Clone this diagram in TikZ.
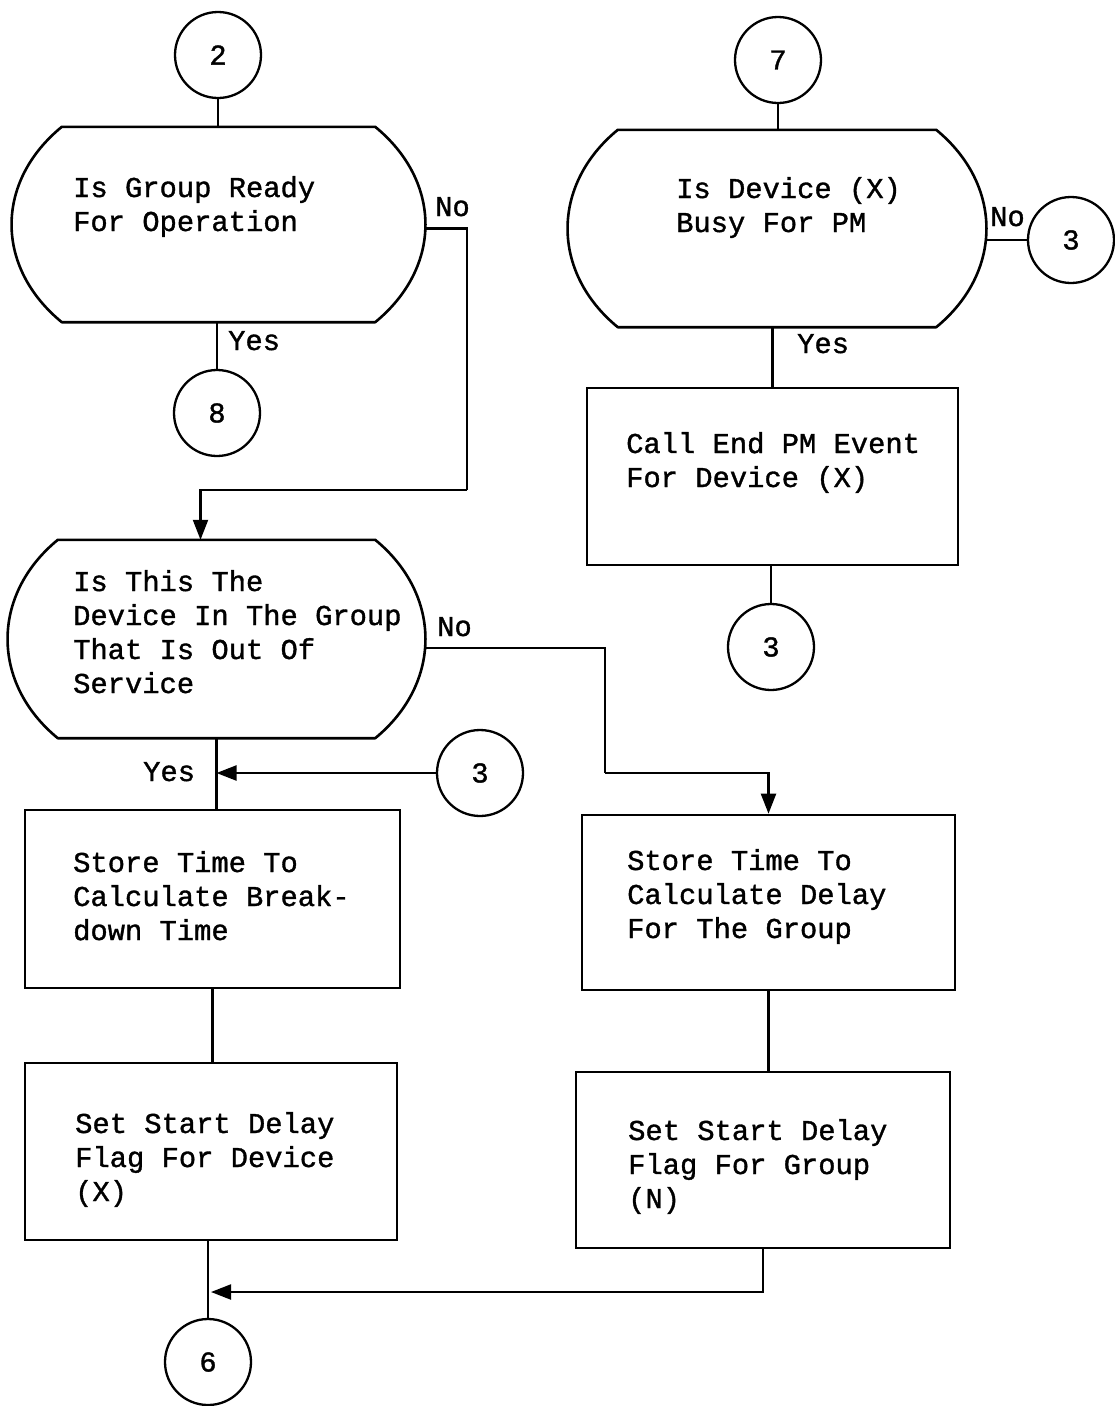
\documentclass[tikz,border=0pt]{standalone}
\usepackage{fontspec}
\newfontfamily\typewriter{Liberation Mono}[FakeBold=1.2]
\usetikzlibrary{arrows.meta,calc}

% multi-line, left-aligned text whose base is the first line's baseline
\newcommand\textlines[1]{\begin{tabular}[t]{@{}l@{}}#1\end{tabular}}

% barrel-shaped decision outline around an (invisible) rectangle node
\newcommand\drawbarrel[1]{%
  \draw[shapeline]
    ([xshift=50pt]#1.north west) -- ([xshift=-50pt]#1.north east)
    .. controls ([xshift=17pt,yshift=-55pt]#1.north east)
       and ([xshift=17pt,yshift=55pt]#1.south east) ..
    ([xshift=-50pt]#1.south east) -- ([xshift=50pt]#1.south west)
    .. controls ([xshift=-17pt,yshift=55pt]#1.south west)
       and ([xshift=-17pt,yshift=-55pt]#1.north west) .. cycle;}

\tikzset{
  every node/.style={font=\typewriter\fontsize{28.8}{34}\selectfont},
  shapeline/.style={line width=2.6pt, line join=round},
  connector/.style={circle, draw, line width=2.3pt, minimum size=86pt, inner sep=0pt},
  decisionbox/.style={rectangle, draw=none, inner sep=0pt},
  processbox/.style={rectangle, draw, line width=2.6pt, inner sep=0pt},
  txt/.style={anchor=base west, inner sep=0pt},
  flow/.style={line width=2.2pt},
  flowarrow/.style={line width=2.2pt, -{Triangle[length=20pt,width=15pt]}},
}

\begin{document}
\begin{tikzpicture}[x=1pt,y=-1pt]
\useasboundingbox (0,0) rectangle (1115,1406);

% ---------- left column ----------
\node[connector] (c2) at (218,55) {2};
\node[decisionbox, minimum width=413pt, minimum height=195pt] (d1) at (218.5,224.5) {};
\drawbarrel{d1}
\node[txt] (d1t) at (73,197) {\textlines{Is Group Ready\\For Operation}};
\node[connector] (c8) at (217,413) {8};

\node[decisionbox, minimum width=417pt, minimum height=198pt] (d2) at (216.5,639) {};
\drawbarrel{d2}
\node[txt] (d2t) at (73,591) {\textlines{Is This The\\Device In The Group\\That Is Out Of\\Service}};

\node[connector] (c3c) at (480,773) {3};

\node[processbox, minimum width=375pt, minimum height=178pt] (bl1) at (212.5,899) {};
\node[txt] (bl1t) at (73,872) {\textlines{Store Time To\\Calculate Break-\\down Time}};

\node[processbox, minimum width=372pt, minimum height=177pt] (bl2) at (211,1151.5) {};
\node[txt] (bl2t) at (75,1133) {\textlines{Set Start Delay\\Flag For Device\\(X)}};

\node[connector] (c6) at (208,1362) {6};

% ---------- right column ----------
\node[connector] (c7) at (778,60) {7};
\node[decisionbox, minimum width=418pt, minimum height=197pt] (d3) at (777,228.5) {};
\drawbarrel{d3}
\node[txt] (d3t) at (676,198) {\textlines{Is Device (X)\\Busy For PM}};
\node[connector] (c3a) at (1071,240) {3};

\node[processbox, minimum width=371pt, minimum height=177pt] (b1) at (772.5,476.5) {};
\node[txt] (b1t) at (626,453) {\textlines{Call End PM Event\\For Device (X)}};
\node[connector] (c3b) at (771,647) {3};

\node[processbox, minimum width=373pt, minimum height=175pt] (br1) at (768.5,902.5) {};
\node[txt] (br1t) at (627,870) {\textlines{Store Time To\\Calculate Delay\\For The Group}};

\node[processbox, minimum width=374pt, minimum height=176pt] (br2) at (763,1160) {};
\node[txt] (br2t) at (628,1140) {\textlines{Set Start Delay\\Flag For Group\\(N)}};

% ---------- branch labels ----------
\node[txt] (no1) at (435,216) {No};
\node[txt] (yes1) at (228,350) {Yes};
\node[txt] (no2) at (437,636) {No};
\node[txt] (yes2) at (143,781) {Yes};
\node[txt] (no3) at (990,226) {No};
\node[txt] (yes3) at (797,353) {Yes};

% ---------- junction points ----------
\coordinate (j1) at (467,490);
\coordinate (j2) at (605,773);
\coordinate (j3) at (211,1292);

% ---------- connectors ----------
\draw[flow] (c2.south) -- (c2.south |- d1.north);
\draw[flow] (c8.north |- d1.south) -- (c8.north);
\draw[flow] ([yshift=-4pt]d1.east) -| (j1);
\draw[flowarrow] (j1) -| ([xshift=-16pt]d2.north);

\draw[flow] (d2.south) -- (d2.south |- bl1.north);
\draw[flowarrow] (c3c.west) -- (c3c.west -| d2.south);
\draw[flow] ([yshift=-9pt]d2.east) -| (j2);
\draw[flowarrow] (j2) -| (br1.north);

\draw[flow] (bl1.south) -- (bl1.south |- bl2.north);
\draw[flow] (c6.north |- bl2.south) -- (c6.north);

\draw[flow] (c7.south) -- (c7.south |- d3.north);
\draw[flow] (c3a.west -| d3.east) -- (c3a.west);
\draw[flow] (b1.north |- d3.south) -- (b1.north);
\draw[flow] (c3b.north |- b1.south) -- (c3b.north);

\draw[flow] (br1.south) -- (br1.south |- br2.north);
\draw[flowarrow] (br2.south) |- (j3);
\end{tikzpicture}
\end{document}
